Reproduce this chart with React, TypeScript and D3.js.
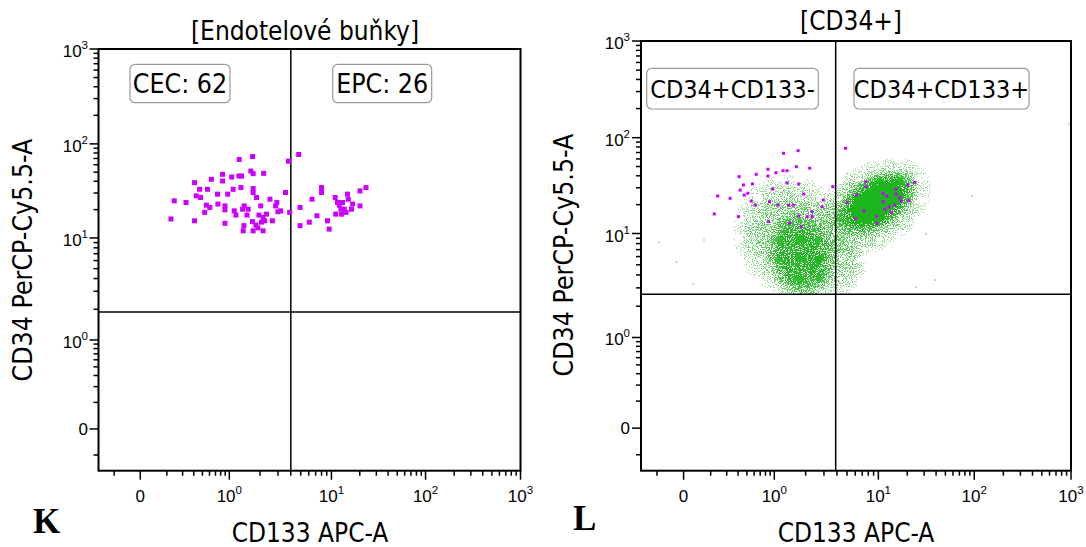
import React from "react";
import * as d3 from "d3";

// Biexponential display axis: linear around zero, logarithmic from 0.2 upwards.
const AXIS_ANCHOR_VALUES = [-0.32, 0, 0.2, 1, 10, 100, 1000];
const AXIS_ANCHOR_FRACTIONS = [0, 0.099, 0.162, 0.31, 0.552, 0.775, 1];
const MAJOR_TICKS = [0, 1, 10, 100, 1000];
const MAJOR_TICK_EXPONENTS = ["", "0", "1", "2", "3"];
const MINOR_TICKS = [
  -0.2, 0.2, 0.3, 0.4, 0.5, 0.6, 0.7, 0.8, 0.9,
  2, 3, 4, 5, 6, 7, 8, 9,
  20, 30, 40, 50, 60, 70, 80, 90,
  200, 300, 400, 500, 600, 700, 800, 900,
];

const X_LABEL = "CD133 APC-A";
const Y_LABEL = "CD34 PerCP-Cy5.5-A";

// Panel K: endothelial cells
const K_TITLE = "[Endotelové buňky]";
const K_GATE_X = 4.0;
const K_GATE_Y = 1.88;
const cecEvents: [number, number][] = [
  [1.25, 68.3], [1.69, 73.4], [3.8, 65.5], [0.631, 42.0], [0.841, 47.4], [0.841, 40.3],
  [1.055, 44.4], [1.242, 45.5], [1.32, 45.5], [1.625, 51.4], [1.71, 48.2], [2.17, 48.6],
  [0.408, 38.7], [0.465, 32.9], [0.569, 32.9], [1.3, 34.3], [1.71, 33.5], [1.71, 30.4],
  [0.738, 29.2], [0.959, 29.2], [0.427, 28.0], [0.477, 26.9], [3.55, 30.4], [0.242, 24.8],
  [0.328, 23.8], [0.553, 22.3], [0.604, 21.1], [0.894, 21.9], [0.894, 19.9], [1.118, 19.4],
  [1.349, 20.2], [1.399, 21.9], [1.53, 20.2], [2.03, 21.9], [1.845, 26.9], [2.92, 23.8],
  [2.84, 21.9], [3.18, 19.4], [2.99, 19.0], [3.9, 18.7], [2.31, 17.9], [2.14, 16.5],
  [2.22, 15.2], [2.64, 15.2], [1.687, 14.9], [2.06, 14.7], [0.222, 15.9], [0.408, 15.2],
  [0.894, 14.3], [1.389, 13.5], [1.368, 11.9], [1.71, 11.9], [2.14, 11.9], [1.9, 12.8],
  [1.82, 13.7], [1.49, 17.5], [1.16, 17.5], [2.5, 25.8], [0.745, 22.9], [0.53, 18.7],
  [1.09, 32.9], [1.95, 17.5],
];
const epcEvents: [number, number][] = [
  [4.78, 77.1], [8.0, 34.3], [8.0, 30.4], [6.45, 25.8], [4.93, 21.1], [10.96, 26.9],
  [11.6, 23.8], [13.1, 23.8], [14.8, 29.2], [15.1, 25.8], [16.8, 22.9], [20.1, 31.6],
  [23.3, 34.3], [20.1, 21.9], [12.6, 20.2], [13.7, 20.2], [11.1, 17.9], [12.8, 17.9],
  [7.21, 17.2], [9.15, 15.2], [6.07, 14.7], [4.93, 13.5], [9.5, 12.4], [12.1, 22.3],
  [16.3, 20.2], [14.3, 18.7],
];

// Panel L: CD34+ population
const L_TITLE = "[CD34+]";
const L_GATE_X = 3.89;
const L_GATE_Y = 2.6;
const L_QUADRANTS = ["CD34+CD133-", "CD34+CD133+"];
const cd34EndothelialEvents: [number, number][] = [
  [1.229, 68.7], [1.692, 73.2], [0.852, 46.8], [1.213, 45.2], [1.326, 45.2], [1.63, 49.8],
  [2.19, 48.0], [1.038, 43.1], [0.633, 41.5], [0.411, 39.2], [0.852, 39.8], [1.326, 33.9],
  [0.576, 32.9], [0.458, 32.1], [1.715, 32.9], [0.421, 28.4], [0.513, 26.3], [0.467, 25.2],
  [0.958, 29.1], [0.239, 24.6], [0.327, 23.3], [0.617, 19.8], [0.557, 21.8], [0.887, 21.5],
  [1.086, 19.8], [1.374, 19.8], [1.535, 19.8], [1.917, 25.8], [2.95, 22.4], [2.88, 19.0],
  [2.31, 16.9], [2.07, 15.0], [2.31, 15.0], [1.715, 15.2], [1.405, 12.8], [1.81, 11.8],
  [0.219, 16.0], [0.404, 15.0], [0.865, 13.3], [3.65, 30.8],
  [4.84, 77.5], [7.54, 34.7], [20.2, 32.1], [23.9, 34.2], [7.54, 30.8], [6.18, 25.2],
  [11.2, 26.3], [12.2, 24.6], [15.3, 29.1], [15.3, 25.8], [16.7, 23.6], [17.3, 21.8],
  [20.7, 22.0], [11.2, 21.5], [14.8, 19.8], [12.9, 19.0], [11.7, 17.9], [13.7, 16.6],
  [5.02, 21.0], [7.26, 17.2], [9.62, 15.2], [6.0, 14.4], [9.77, 12.8],
];
// Density of the CD34+ event cloud: centre (data units), spread (decades), tilt (deg), peak density
const cd34Cloud = [
  { x: 8.4, y: 18.5, spreadX: 0.7, spreadY: 0.45, tilt: -32, density: 0.5 },
  { x: 1.43, y: 9.68, spreadX: 0.55, spreadY: 0.65, tilt: -20, density: 0.45 },
  { x: 3.89, y: 4.98, spreadX: 0.3, spreadY: 0.3, tilt: 0, density: 0.4 },
  { x: 1.78, y: 5.81, spreadX: 0.33, spreadY: 0.5, tilt: -10, density: 0.72 },
  { x: 9.5, y: 21, spreadX: 0.5, spreadY: 0.28, tilt: -32, density: 1.0 },
];
const cd34Outliers: [number, number][] = [
  [953, 138], [94, 24.6], [-0.185, 8.28], [-0.053, 5.32], [0.151, 8.66],
  [0.071, 3.27], [39.2, 3.57], [24.7, 3.04], [31.6, 9.89],
];

const LABEL_FONT = "'DejaVu Sans Condensed', 'DejaVu Sans', sans-serif";
const TICK_FONT = "'Liberation Sans', Arial, sans-serif";
const EVENT_COLOR = "#cc00ff";
const CLOUD_COLOR = "#1cb51c";

function biexScale(start: number, end: number) {
  const g = (v: number) =>
    v >= 0.2 ? Math.log10(v) : Math.log10(0.2) + (v - 0.2) / (0.2 * Math.LN10);
  const lin = d3
    .scaleLinear()
    .domain(AXIS_ANCHOR_VALUES.map(g))
    .range(AXIS_ANCHOR_FRACTIONS.map((f) => start + (end - start) * f));
  return (v: number) => lin(g(v));
}

type Frame = { left: number; right: number; top: number; bottom: number };

function TickLabel({ x, y, exp, anchor }: { x: number; y: number; exp: string; anchor: string }) {
  return (
    <text x={x} y={y} textAnchor={anchor} fontFamily={TICK_FONT} fontSize={17}>
      {exp === "" ? "0" : "10"}
      {exp !== "" && <tspan dy={-8} fontSize={11.5}>{exp}</tspan>}
    </text>
  );
}

function Axes({ frame, sx, sy, yLabelEnd }: { frame: Frame; sx: (v: number) => number; sy: (v: number) => number; yLabelEnd: number }) {
  return (
    <g>
      {MINOR_TICKS.map((t) => (
        <line key={"xm" + t} x1={sx(t)} x2={sx(t)} y1={frame.bottom} y2={frame.bottom + 5} stroke="#000" strokeWidth={1.5} />
      ))}
      {MINOR_TICKS.map((t) => (
        <line key={"ym" + t} x1={frame.left - 5} x2={frame.left} y1={sy(t)} y2={sy(t)} stroke="#000" strokeWidth={1.5} />
      ))}
      {MAJOR_TICKS.map((t, i) => (
        <g key={"xM" + t}>
          <line x1={sx(t)} x2={sx(t)} y1={frame.bottom} y2={frame.bottom + 9} stroke="#000" strokeWidth={1.5} />
          <TickLabel x={sx(t)} y={frame.bottom + 31} exp={MAJOR_TICK_EXPONENTS[i]} anchor="middle" />
        </g>
      ))}
      {MAJOR_TICKS.map((t, i) => (
        <g key={"yM" + t}>
          <line x1={frame.left - 9} x2={frame.left} y1={sy(t)} y2={sy(t)} stroke="#000" strokeWidth={1.5} />
          <TickLabel x={yLabelEnd} y={sy(t) + (MAJOR_TICK_EXPONENTS[i] === "" ? 6 : 8)} exp={MAJOR_TICK_EXPONENTS[i]} anchor="end" />
        </g>
      ))}
    </g>
  );
}

function QuadrantBox({ x0, x1, y0, y1, text, size }: { x0: number; x1: number; y0: number; y1: number; text: string; size: number }) {
  return (
    <g>
      <rect x={x0} y={y0} width={x1 - x0} height={y1 - y0} rx={5} fill="#fff" stroke="#9a9a9a" strokeWidth={1.2} />
      <text x={(x0 + x1) / 2} y={(y0 + y1) / 2 + 9} textAnchor="middle" fontFamily={LABEL_FONT} fontStretch="condensed" fontSize={size}>
        {text}
      </text>
    </g>
  );
}

function PanelK() {
  const frame: Frame = { left: 98.5, right: 520.5, top: 49, bottom: 470.7 };
  const sx = biexScale(frame.left, frame.right);
  const sy = biexScale(frame.bottom, frame.top);
  const gx = sx(K_GATE_X);
  const gy = sy(K_GATE_Y);
  const size = 5;
  return (
    <g>
      <text x={305} y={40} textAnchor="middle" fontFamily={LABEL_FONT} fontStretch="condensed" fontSize={26}>{K_TITLE}</text>
      <rect x={frame.left} y={frame.top} width={frame.right - frame.left} height={frame.bottom - frame.top} fill="#fff" />
      <line x1={gx} x2={gx} y1={frame.top} y2={frame.bottom} stroke="#000" strokeWidth={1.5} />
      <line x1={frame.left} x2={frame.right} y1={gy} y2={gy} stroke="#000" strokeWidth={1.5} />
      {[...cecEvents, ...epcEvents].map(([x, y], i) => (
        <rect key={i} x={sx(x) - size / 2} y={sy(y) - size / 2} width={size} height={size} fill={EVENT_COLOR} />
      ))}
      <rect x={frame.left} y={frame.top} width={frame.right - frame.left} height={frame.bottom - frame.top} fill="none" stroke="#000" strokeWidth={2} />
      <Axes frame={frame} sx={sx} sy={sy} yLabelEnd={88} />
      <QuadrantBox x0={130} x1={230} y0={64.3} y1={102.7} size={26.5} text={`CEC: ${cecEvents.length}`} />
      <QuadrantBox x0={332.7} x1={431.7} y0={64.3} y1={102.7} size={26.5} text={`EPC: ${epcEvents.length}`} />
      <text x={310} y={542} textAnchor="middle" fontFamily={LABEL_FONT} fontStretch="condensed" fontSize={26}>{X_LABEL}</text>
      <text transform="translate(32,260) rotate(-90)" textAnchor="middle" fontFamily={LABEL_FONT} fontStretch="condensed" fontSize={26.5}>{Y_LABEL}</text>
      <text x={33} y={533} fontFamily="'Liberation Serif', 'Times New Roman', serif" fontWeight="bold" fontSize={35}>K</text>
    </g>
  );
}

function PanelL() {
  const frame: Frame = { left: 641, right: 1071, top: 41, bottom: 470.7 };
  const sx = biexScale(frame.left, frame.right);
  const sy = biexScale(frame.bottom, frame.top);
  const gx = sx(L_GATE_X);
  const gy = sy(L_GATE_Y);
  const size = 3;
  const w = frame.right - frame.left;
  const h = frame.bottom - frame.top;
  return (
    <g>
      <defs>
        <clipPath id="cd34-gate">
          <rect x={frame.left} y={frame.top} width={w} height={gy - frame.top} />
        </clipPath>
        {cd34Cloud.map((c, i) => (
          <radialGradient key={i} id={`cloud-${i}`}>
            <stop offset="0" stopColor="#000" stopOpacity={c.density} />
            <stop offset="0.55" stopColor="#000" stopOpacity={c.density} />
            <stop offset="0.8" stopColor="#000" stopOpacity={c.density * 0.5} />
            <stop offset="1" stopColor="#000" stopOpacity={0} />
          </radialGradient>
        ))}
        {/* stipple: each pixel is inked where the cloud density beats a noise threshold;
            sparse areas get paler ink, the dense core solid green */}
        <filter id="stipple" filterUnits="userSpaceOnUse" x={frame.left} y={frame.top} width={w} height={h} colorInterpolationFilters="sRGB">
          <feTurbulence type="fractalNoise" baseFrequency="0.95" numOctaves={1} seed={11} result="noise" />
          <feColorMatrix in="noise" type="matrix" values="0 0 0 0 0  0 0 0 0 0  0 0 0 0 0  4 0 0 0 -1.5" result="grain0" />
          <feComponentTransfer in="grain0" result="grain">
            <feFuncA type="linear" slope={0.94} intercept={0.03} />
          </feComponentTransfer>
          <feComposite in="SourceAlpha" in2="grain" operator="arithmetic" k1={0} k2={1} k3={-1} k4={0.5} result="diff" />
          <feComponentTransfer in="diff" result="mask">
            <feFuncA type="discrete" tableValues="0 1" />
          </feComponentTransfer>
          <feComposite in="mask" in2="SourceAlpha" operator="arithmetic" k1={0.7} k2={0.35} k3={0} k4={0} result="shade" />
          <feFlood floodColor={CLOUD_COLOR} result="ink" />
          <feComposite in="ink" in2="shade" operator="in" />
        </filter>
      </defs>
      <text x={851} y={30} textAnchor="middle" fontFamily={LABEL_FONT} fontStretch="condensed" fontSize={26}>{L_TITLE}</text>
      <rect x={frame.left} y={frame.top} width={w} height={h} fill="#fff" />
      <g clipPath="url(#cd34-gate)">
        <g filter="url(#stipple)">
          {cd34Cloud.map((c, i) => {
            const cx = sx(c.x);
            const cy = sy(c.y);
            const rx = sx(c.x * Math.pow(10, c.spreadX)) - cx;
            const ry = cy - sy(c.y * Math.pow(10, c.spreadY));
            return (
              <ellipse key={i} cx={cx} cy={cy} rx={rx} ry={ry} transform={`rotate(${c.tilt} ${cx} ${cy})`} fill={`url(#cloud-${i})`} />
            );
          })}
        </g>
        {cd34Outliers.map(([x, y], i) => (
          <rect key={i} x={sx(x) - 0.75} y={sy(y) - 0.75} width={1.5} height={1.5} fill={CLOUD_COLOR} opacity={0.6} />
        ))}
      </g>
      {cd34EndothelialEvents.map(([x, y], i) => (
        <rect key={i} x={sx(x) - size / 2} y={sy(y) - size / 2} width={size} height={size} fill={EVENT_COLOR} />
      ))}
      <line x1={gx} x2={gx} y1={frame.top} y2={frame.bottom} stroke="#000" strokeWidth={1.5} />
      <line x1={frame.left} x2={frame.right} y1={gy} y2={gy} stroke="#000" strokeWidth={1.5} />
      <rect x={frame.left} y={frame.top} width={w} height={h} fill="none" stroke="#000" strokeWidth={2} />
      <Axes frame={frame} sx={sx} sy={sy} yLabelEnd={630} />
      <QuadrantBox x0={646.7} x1={818.3} y0={68.3} y1={109} size={25} text={L_QUADRANTS[0]} />
      <QuadrantBox x0={854} x1={1029} y0={68.3} y1={109} size={25} text={L_QUADRANTS[1]} />
      <text x={856} y={542} textAnchor="middle" fontFamily={LABEL_FONT} fontStretch="condensed" fontSize={26}>{X_LABEL}</text>
      <text transform="translate(573,255) rotate(-90)" textAnchor="middle" fontFamily={LABEL_FONT} fontStretch="condensed" fontSize={26.5}>{Y_LABEL}</text>
      <text x={573} y={530} fontFamily="'Liberation Serif', 'Times New Roman', serif" fontWeight="bold" fontSize={35}>L</text>
    </g>
  );
}

export default function App() {
  return (
    <svg width={1086} height={547} style={{ position: "absolute", left: 0, top: 0, background: "#fff" }}>
      <rect width={1086} height={547} fill="#fff" />
      <PanelK />
      <PanelL />
    </svg>
  );
}
